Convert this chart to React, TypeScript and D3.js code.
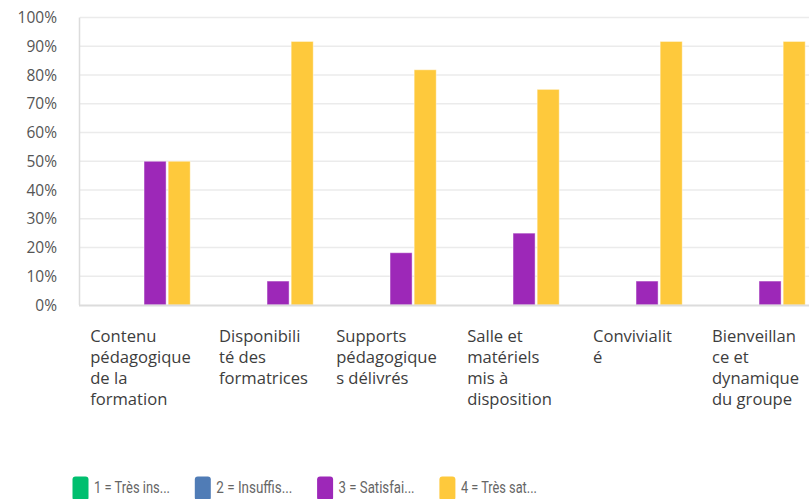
import React, { useEffect, useRef } from "react";
import * as d3 from "d3";

const categories = [
  "Contenu pédagogique de la formation",
  "Disponibilité des formatrices",
  "Supports pédagogiques délivrés",
  "Salle et matériels mis à disposition",
  "Convivialité",
  "Bienveillance et dynamique du groupe",
];
const categoryLines = [
  ["Contenu", "pédagogique", "de la", "formation"],
  ["Disponibili", "té des", "formatrices"],
  ["Supports", "pédagogique", "s délivrés"],
  ["Salle et", "matériels", "mis à", "disposition"],
  ["Convivialit", "é"],
  ["Bienveillan", "ce et", "dynamique", "du groupe"],
];
const seriesNames = ["1 = Très ins...", "2 = Insuffis...", "3 = Satisfai...", "4 = Très sat..."];
const seriesColors = ["#00BF6F", "#507CB6", "#9D28B8", "#FEC93C"];
const s1 = [0, 0, 0, 0, 0, 0];
const s2 = [0, 0, 0, 0, 0, 0];
const s3 = [50, 8.33, 18.18, 25, 8.33, 8.33];
const s4 = [50, 91.67, 81.82, 75, 91.67, 91.67];
const yTicks = [0, 10, 20, 30, 40, 50, 60, 70, 80, 90, 100];

const W = 809;
const H = 499;

export default function App() {
  const ref = useRef<SVGSVGElement>(null);
  useEffect(() => {
    const svg = d3.select(ref.current);
    svg.selectAll("*").remove();
    const series = [s1, s2, s3, s4];
    const y = d3.scaleLinear().domain([0, 100]).range([305, 17.5]);
    const x0 = d3
      .scaleBand<string>()
      .domain(categories)
      .range([81.5, 81.5 + 6 * 123])
      .paddingInner(0.232)
      .paddingOuter(0.116);
    const x1 = d3
      .scaleBand<string>()
      .domain(seriesNames)
      .range([0, x0.bandwidth()])
      .paddingInner(0.085);

    // grid
    svg
      .append("g")
      .selectAll("line")
      .data(yTicks.filter((t) => t > 0))
      .join("line")
      .attr("x1", 80)
      .attr("x2", W)
      .attr("y1", (d) => y(d))
      .attr("y2", (d) => y(d))
      .attr("stroke", "#ebebeb")
      .attr("stroke-width", 1.5);

    // y axis line
    svg
      .append("line")
      .attr("x1", 79.5)
      .attr("x2", 79.5)
      .attr("y1", y(100))
      .attr("y2", y(0))
      .attr("stroke", "#dcdcdc")
      .attr("stroke-width", 1.5);

    // y tick labels
    svg
      .append("g")
      .selectAll("text")
      .data(yTicks)
      .join("text")
      .attr("x", 57)
      .attr("y", (d) => y(d))
      .attr("dy", "0.36em")
      .attr("text-anchor", "end")
      .attr("font-family", "'Open Sans', sans-serif")
      .attr("font-size", 15.5)
      .attr("fill", "#555")
      .text((d) => `${d}%`);

    // bars
    const g = svg
      .append("g")
      .selectAll("g")
      .data(categories)
      .join("g")
      .attr("transform", (d) => `translate(${x0(d)},0)`);
    g.selectAll("rect")
      .data((_, i) => series.map((s, k) => ({ k, v: s[i] })).filter((d) => d.v > 0))
      .join("rect")
      .attr("x", (d) => x1(seriesNames[d.k])!)
      .attr("width", x1.bandwidth())
      .attr("y", (d) => y(d.v))
      .attr("height", (d) => y(0) - y(d.v))
      .attr("fill", (d) => seriesColors[d.k])
      .attr("stroke", "rgba(255,255,255,0.45)")
      .attr("stroke-width", 1);

    // x axis line
    svg
      .append("line")
      .attr("x1", 79)
      .attr("x2", W)
      .attr("y1", 305.5)
      .attr("y2", 305.5)
      .attr("stroke", "#dcdcdc")
      .attr("stroke-width", 2);

    // category labels
    categories.forEach((c, i) => {
      const cx = x0(c)! + x0.bandwidth() / 2 - 2.5;
      const t = svg
        .append("text")
        .attr("font-family", "'Open Sans', sans-serif")
        .attr("font-size", 16.6)
        .attr("fill", "#3d3d3d");
      categoryLines[i].forEach((line, j) => {
        t.append("tspan").attr("y", 342 + j * 21).text(line);
      });
      const widths: number[] = [];
      t.selectAll<SVGTSpanElement, unknown>("tspan").each(function () {
        widths.push(this.getComputedTextLength());
      });
      const maxW = d3.max(widths) || 0;
      t.selectAll("tspan").attr("x", cx - maxW / 2);
    });

    // legend
    const lg = svg
      .append("g")
      .selectAll("g")
      .data(seriesNames)
      .join("g")
      .attr("transform", (_, i) => `translate(${72.5 + i * 122.3},476.5)`);
    lg.append("rect")
      .attr("width", 16)
      .attr("height", 24)
      .attr("rx", 3)
      .attr("fill", (_, i) => seriesColors[i]);
    lg.append("text")
      .attr("x", 21.5)
      .attr("y", 16)
      .attr("font-family", "Roboto, sans-serif")
      .attr("font-size", 17)
      .attr("fill", "#666")
      .text((d) => d)
      .attr("textLength", 76)
      .attr("lengthAdjust", "spacingAndGlyphs");
  }, []);

  return (
    <svg
      ref={ref}
      width={W}
      height={H}
      style={{ position: "absolute", left: 0, top: 0, background: "#fff" }}
    />
  );
}
